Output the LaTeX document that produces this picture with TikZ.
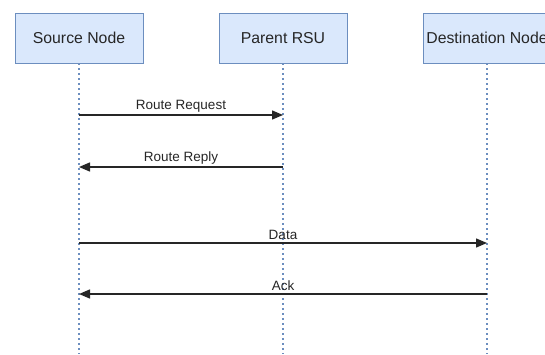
\documentclass[tikz,border=0pt]{standalone}
\usepackage{fontspec}
\setmainfont{Liberation Sans}
\usetikzlibrary{arrows.meta}
\definecolor{actfill}{HTML}{DAE8FC}
\definecolor{actdraw}{HTML}{6C8EBF}
\begin{document}
\begin{tikzpicture}[x=1pt,y=-1pt,
  actor/.style={draw=actdraw,fill=actfill,line width=0.9pt,minimum width=128pt,minimum height=50pt,inner sep=0pt,text=black!85,font=\fontsize{15.8}{18}\selectfont},
  lifeline/.style={draw=actdraw,line width=1.1pt,dash pattern=on 2pt off 3pt},
  msg/.style={draw=black!85,line width=1.4pt,-{Triangle[length=11pt,width=9pt]}},
  msglabel/.style={font=\fontsize{13.5}{15}\selectfont,text=black!85,inner sep=0pt,anchor=south}]
\useasboundingbox (0,0) rectangle (545,354);
% actors
\node[actor] (src) at (79,38) {Source Node};
\node[actor] (rsu) at (283,38) {Parent RSU};
\node[actor] (dst) at (487,38) {Destination Node};
% lifeline ends
\coordinate (srcend) at (79,354);
\coordinate (rsuend) at (283,354);
\coordinate (dstend) at (487,354);
\draw[lifeline] (src.south) -- (srcend);
\draw[lifeline] (rsu.south) -- (rsuend);
\draw[lifeline] (dst.south) -- (dstend);
% message anchor points on the lifelines
\coordinate (s1) at (79,115);  \coordinate (r1) at (283,115);
\coordinate (s2) at (79,167);  \coordinate (r2) at (283,167);
\coordinate (s3) at (79,243);  \coordinate (d3) at (487,243);
\coordinate (s4) at (79,294);  \coordinate (d4) at (487,294);
% messages
\draw[msg] (s1) -- node[msglabel,yshift=2.5pt] {Route Request} (r1);
\draw[msg] (r2) -- node[msglabel,yshift=2.5pt] {Route Reply} (s2);
\draw[msg] (s3) -- node[msglabel,yshift=2.5pt] {Data} (d3);
\draw[msg] (d4) -- node[msglabel,yshift=2.5pt] {Ack} (s4);
\end{tikzpicture}
\end{document}
